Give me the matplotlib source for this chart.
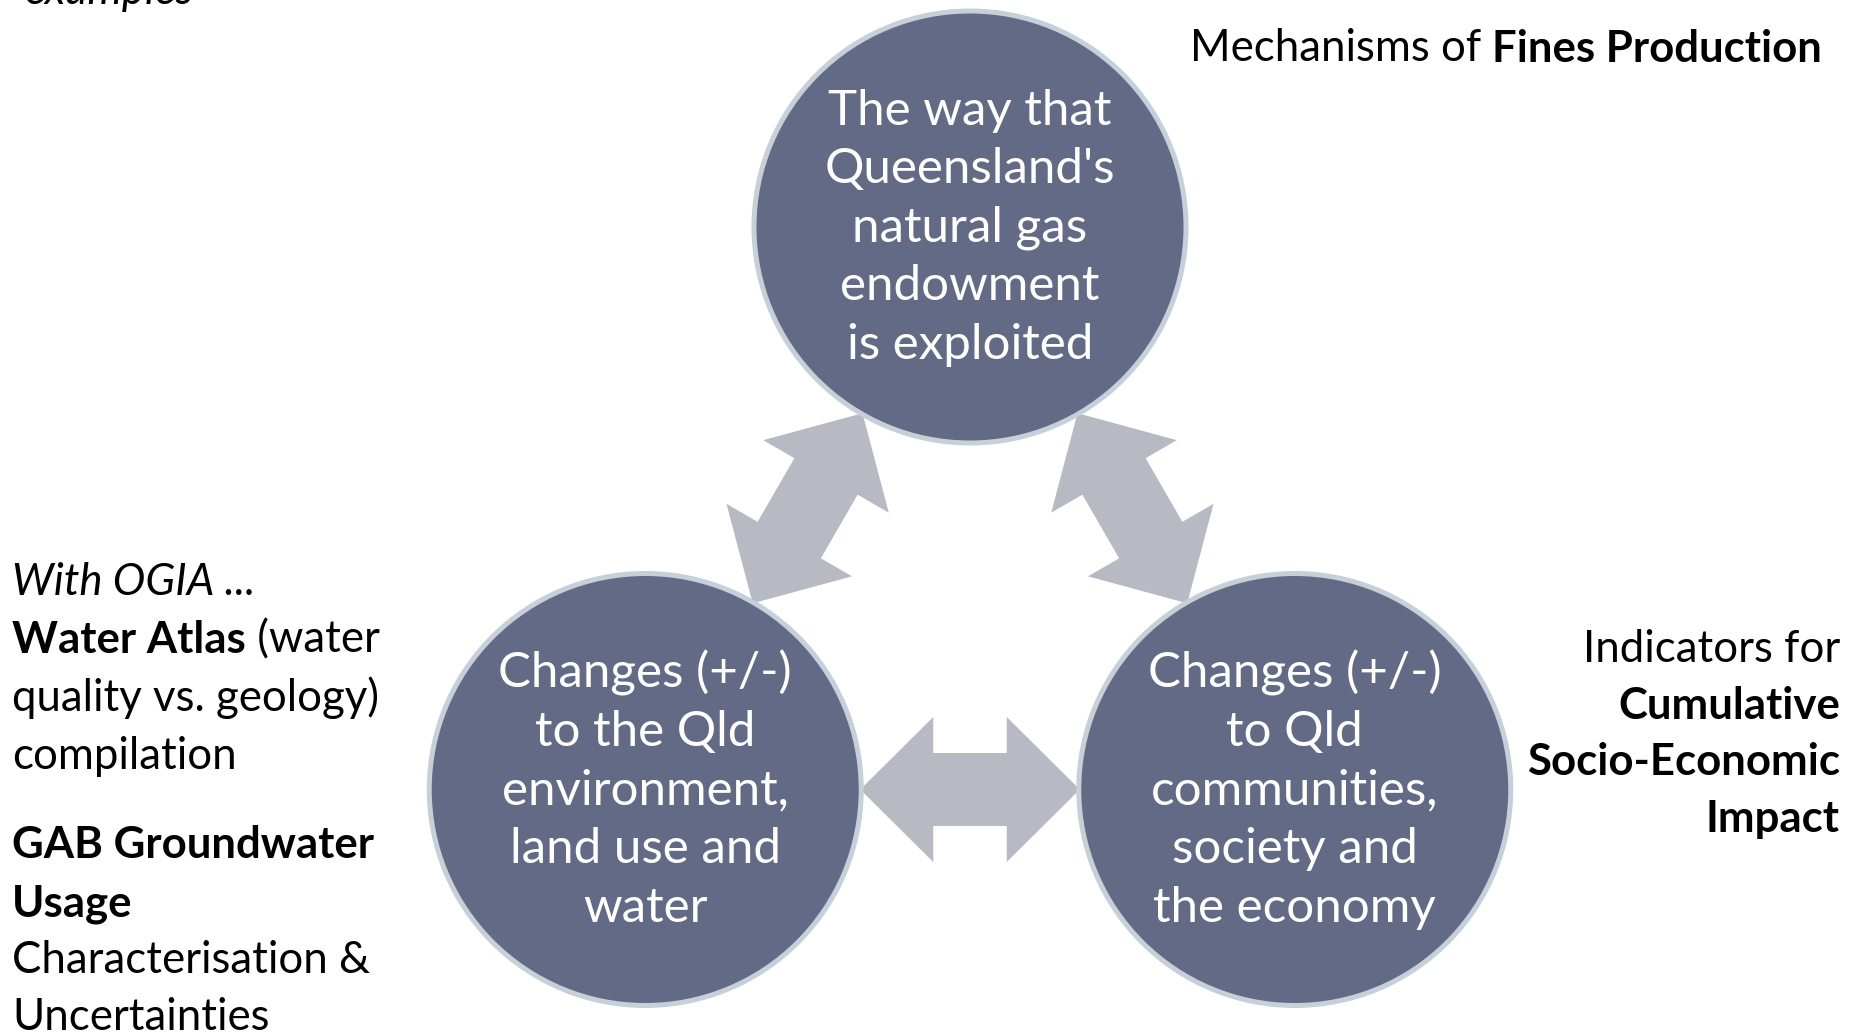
import numpy as np
import matplotlib.pyplot as plt
from matplotlib.patches import Circle, Polygon

plt.rcParams['font.family'] = ['Lato', 'DejaVu Sans']

# --- content ---
node_labels = [
    ["The way that", "Queensland's", "natural gas", "endowment", "is exploited"],
    ["Changes (+/-)", "to the Qld", "environment,", "land use and", "water"],
    ["Changes (+/-)", "to Qld", "communities,", "society and", "the economy"],
]
node_angles = [90, 210, 330]          # position around the triangle
links = [(0, 1), (0, 2), (1, 2)]      # two-way arrows

top_note = ("Mechanisms of ", "Fines Production")
left_note = [
    ("With OGIA ...", "italic"),
    ("Water Atlas|| (water", "mixed"),
    ("quality vs. geology)", "normal"),
    ("compilation", "normal"),
    ("GAB Groundwater", "bold"),
    ("Usage", "bold"),
    ("Characterisation &", "normal"),
    ("Uncertainties", "normal"),
]
right_note = [("Indicators for", "normal"), ("Cumulative", "bold"),
              ("Socio-Economic", "bold"), ("Impact", "bold")]

# --- style / layout ---
W, H = 1854, 1035
FS = 31.5        # side notes
FS_NODE = 35.5   # text inside circles
CIRCLE_FILL = '#636a86'
CIRCLE_EDGE = '#c6d0d8'
ARROW_COL = '#b7b9c3'
CENTER = (970, 602)
ORBIT = 375
R = 216

fig = plt.figure(figsize=(W / 100, H / 100), dpi=100)
ax = fig.add_axes([0, 0, 1, 1])
ax.set_xlim(0, W)
ax.set_ylim(H, 0)
ax.set_aspect('equal')
ax.axis('off')

centers = [(CENTER[0] + ORBIT * np.cos(np.radians(a)),
            CENTER[1] - ORBIT * np.sin(np.radians(a))) for a in node_angles]


def double_arrow(p, q, length, head_len=73, head_w=72.5, shaft_w=36.5):
    p, q = np.array(p), np.array(q)
    mid = (p + q) / 2
    u = (q - p) / np.linalg.norm(q - p)
    v = np.array([-u[1], u[0]])
    h = length / 2
    local = [(-h, 0), (-h + head_len, head_w), (-h + head_len, shaft_w),
             (h - head_len, shaft_w), (h - head_len, head_w), (h, 0),
             (h - head_len, -head_w), (h - head_len, -shaft_w),
             (-h + head_len, -shaft_w), (-h + head_len, -head_w)]
    pts = [mid + a * u + b * v for a, b in local]
    return Polygon(pts, closed=True, facecolor=ARROW_COL, edgecolor='none', zorder=1)


for i, j in links:
    d = np.hypot(centers[i][0] - centers[j][0], centers[i][1] - centers[j][1])
    ax.add_patch(double_arrow(centers[i], centers[j], d - 2 * R + 2))

for (cx, cy), lines in zip(centers, node_labels):
    ax.add_patch(Circle((cx, cy), R, facecolor=CIRCLE_FILL, edgecolor=CIRCLE_EDGE,
                        linewidth=3.6, zorder=2))
    n = len(lines)
    for k, line in enumerate(lines):
        y = cy + (k - (n - 1) / 2) * 58.5 + 15
        ax.text(cx, y, line, color='white', fontsize=FS_NODE, ha='center',
                va='baseline', zorder=3)

# cut-off word at the very top
ax.text(25, 4, "examples", fontsize=FS, style='italic', va='baseline')

# top right note
t_bold = ax.text(1822, 62, top_note[1], fontsize=FS, fontweight='bold',
                 ha='right', va='baseline')
ax.annotate(top_note[0], xy=(0, 0), xycoords=t_bold, fontsize=FS,
            ha='right', va='bottom')

# left note
left_y = [595, 653, 711, 769, 858, 916, 973, 1030]
for (txt, kind), y in zip(left_note, left_y):
    if kind == 'mixed':
        b, r = txt.split('||')
        tb = ax.text(12, y, b, fontsize=FS, fontweight='bold', va='baseline')
        ax.annotate(r, xy=(1, 0), xycoords=tb, fontsize=FS, ha='left', va='bottom')
    else:
        ax.text(12, y, txt, fontsize=FS, va='baseline',
                fontweight='bold' if kind == 'bold' else 'normal',
                style='italic' if kind == 'italic' else 'normal')

# right note
right_y = [662, 719, 775, 832]
for (txt, kind), y in zip(right_note, right_y):
    ax.text(1840, y, txt, fontsize=FS, ha='right', va='baseline',
            fontweight='bold' if kind == 'bold' else 'normal')

fig.savefig('out.png', dpi=100, facecolor='white')
